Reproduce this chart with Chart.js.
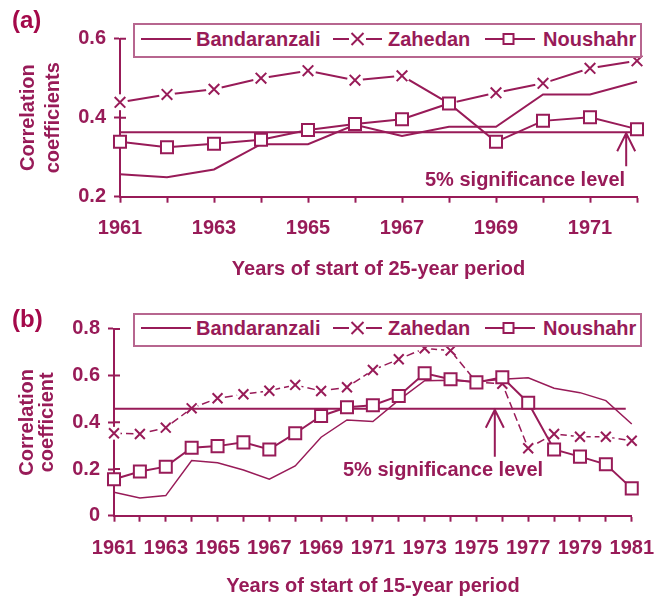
<!DOCTYPE html>
<html>
<head>
<meta charset="utf-8">
<script src="https://cdn.jsdelivr.net/npm/chart.js@4.4.1/dist/chart.umd.min.js"></script>
<style>
  body { margin: 0; background: #fff; }
  #wrap { position: relative; width: 669px; height: 600px; font-family: "Liberation Sans", Arial, sans-serif; font-weight: bold; color: #981b58; }
  canvas { position: absolute; left: 0; }
  #chartA { top: 0; }
  #chartB { top: 300px; }
  .tag { position: absolute; left: 12px; font-size: 24px; line-height: 24px; color: #a4094a; }
  .legend { position: absolute; left: 133px; width: 505px; border: 2px solid #b7668f; background: #fff; }
  .legend span, .legend svg { position: absolute; }
  .legend span { font-size: 20px; line-height: 20px; white-space: nowrap; }
  .note { position: absolute; font-size: 20px; line-height: 20px; white-space: nowrap; }
</style>
</head>
<body>
<div id="wrap">
  <canvas id="chartA" width="669" height="300"></canvas>
  <canvas id="chartB" width="669" height="300"></canvas>
  <div class="tag" style="top:8px">(a)</div>
  <div class="tag" style="top:307px">(b)</div>
  <div class="legend" id="legA" style="top:23px; height:31px"></div>
  <div class="legend" id="legB" style="top:313px; height:30px"></div>
  <div class="note" style="left:425px; top:169px">5% significance level</div>
  <div class="note" style="left:343px; top:459px">5% significance level</div>
</div>
<script>
var MAROON = '#981b58';

var seriesNames = ['Bandaranzali', 'Zahedan', 'Noushahr'];

// (a) 25-year periods
var yearsA = ['1961', '1962', '1963', '1964', '1965', '1966', '1967', '1968', '1969', '1970', '1971', '1972'];
var tickYearsA = ['1961', '1963', '1965', '1967', '1969', '1971'];
var bandA = [0.257, 0.249, 0.269, 0.333, 0.333, 0.382, 0.354, 0.377, 0.377, 0.459, 0.459, 0.491];
var zahA = [0.439, 0.459, 0.472, 0.500, 0.519, 0.495, 0.506, 0.436, 0.463, 0.487, 0.525, 0.544];
var nouA = [0.339, 0.325, 0.334, 0.344, 0.369, 0.384, 0.396, 0.436, 0.339, 0.392, 0.401, 0.371];
var sigA = 0.363;

// (b) 15-year periods
var yearsB = ['1961', '1962', '1963', '1964', '1965', '1966', '1967', '1968', '1969', '1970', '1971',
              '1972', '1973', '1974', '1975', '1976', '1977', '1978', '1979', '1980', '1981'];
var tickYearsB = ['1961', '1963', '1965', '1967', '1969', '1971', '1973', '1975', '1977', '1979', '1981'];
var bandB = [0.100, 0.076, 0.086, 0.236, 0.227, 0.196, 0.156, 0.213, 0.336, 0.410, 0.403,
             0.495, 0.578, 0.580, 0.574, 0.584, 0.591, 0.546, 0.527, 0.493, 0.393];
var zahB = [0.353, 0.350, 0.377, 0.460, 0.503, 0.520, 0.535, 0.560, 0.534, 0.550, 0.624,
            0.670, 0.717, 0.707, 0.572, 0.565, 0.289, 0.350, 0.338, 0.338, 0.321];
var nouB = [0.156, 0.189, 0.210, 0.291, 0.298, 0.314, 0.284, 0.353, 0.427, 0.464, 0.473,
            0.513, 0.610, 0.584, 0.571, 0.593, 0.484, 0.284, 0.253, 0.220, 0.117];
var sigB = 0.458;

Chart.defaults.font.family = '"Liberation Sans", Arial, sans-serif';
Chart.defaults.font.size = 20;
Chart.defaults.font.weight = 'bold';
Chart.defaults.color = MAROON;

// legend boxes (html)
function buildLegend(id, lineY, textY) {
  var samples = [
    '<line x1="0" y1="8" x2="50" y2="8"/>',
    '<line x1="0" y1="8" x2="16" y2="8"/><line x1="33" y1="8" x2="49" y2="8"/><path d="M18.5 2 L30.5 14 M30.5 2 L18.5 14"/>',
    '<line x1="0" y1="8" x2="18" y2="8"/><line x1="29" y1="8" x2="50" y2="8"/><rect x="18.5" y="3" width="10" height="10" fill="#fff"/>'
  ];
  var sx = [6, 198, 350], tx = [61, 253, 408];
  var html = '';
  seriesNames.forEach(function(n, i) {
    html += '<svg width="50" height="16" style="left:' + sx[i] + 'px; top:' + (lineY - 8) + 'px" fill="none" stroke="' + MAROON + '" stroke-width="2">' + samples[i] + '</svg>';
    html += '<span style="left:' + tx[i] + 'px; top:' + textY + 'px">' + n + '</span>';
  });
  document.getElementById(id).innerHTML = html;
}
buildLegend('legA', 13.5, 4);
buildLegend('legB', 12.7, 3);

// significance line, arrow and inner y ticks
var sigPlugin = {
  id: 'sig',
  afterDatasetDraw: function(chart, args, opts) {
    if (args.index !== 3) return;
    var ctx = chart.ctx, a = chart.chartArea, x = chart.scales.x, y = chart.scales.y;
    var yy = y.getPixelForValue(opts.value);
    var ax = x.getPixelForValue(opts.arrowAt);
    ctx.save();
    ctx.strokeStyle = MAROON;
    ctx.lineWidth = 2;
    ctx.beginPath();
    ctx.moveTo(a.left, yy);
    ctx.lineTo(a.right - opts.trim, yy);
    ctx.moveTo(ax, yy);
    ctx.lineTo(ax, yy + opts.arrowLen);
    ctx.moveTo(ax - 9, yy + 19);
    ctx.lineTo(ax, yy + 1);
    ctx.lineTo(ax + 9, yy + 19);
    y.ticks.forEach(function(t) {
      var p = y.getPixelForValue(t.value);
      if (p < a.bottom - 2) {
        ctx.moveTo(a.left, p);
        ctx.lineTo(a.left + 6, p);
      }
    });
    ctx.stroke();
    ctx.restore();
  }
};

function makeSets(band, zah, nou, s) {
  return [
    { label: 'Noushahr', data: nou, order: 0, clip: false, borderColor: MAROON, borderWidth: 2, tension: 0,
      pointStyle: 'rect', pointRadius: 8.5, pointBorderWidth: 2, pointBackgroundColor: '#fff', pointBorderColor: MAROON },
    { label: 'Zahedan', data: zah, order: 1, clip: false, showLine: false,
      pointStyle: 'crossRot', pointRadius: s.cross, pointBorderWidth: 2, pointBorderColor: MAROON },
    { label: 'Bandaranzali', data: band, order: 2, clip: false, borderColor: MAROON, borderWidth: s.lw, tension: 0, pointRadius: 0 },
    { label: 'halo', data: zah, order: 3, clip: false, showLine: false,
      pointStyle: 'circle', pointRadius: s.halo, pointBorderWidth: 0, pointBackgroundColor: '#fff' },
    { label: 'Zahedan line', data: zah, order: 4, clip: false, borderColor: MAROON, borderWidth: s.lw,
      borderDash: s.dash, tension: 0, pointRadius: 0 }
  ];
}

function makeScales(o) {
  return {
    x: {
      offset: false,
      grid: { drawOnChartArea: false, drawTicks: true, tickLength: 6, tickWidth: 2, tickColor: MAROON, color: MAROON },
      border: { display: true, color: MAROON, width: 2 },
      ticks: {
        autoSkip: false, maxRotation: 0, minRotation: 0, padding: o.xPad,
        callback: function(v) {
          var l = this.getLabelForValue(v);
          return o.shown.indexOf(l) >= 0 ? l : '';
        }
      },
      title: { display: true, text: o.xTitle, font: { size: 20, weight: 'bold' }, padding: { top: 0, bottom: o.xTitlePad } },
      afterFit: function(s) { s.height = o.xHeight; }
    },
    y: {
      min: o.yMin, max: o.yMax,
      grid: { drawOnChartArea: false, drawTicks: true, tickLength: 6, tickWidth: 2, tickColor: MAROON, color: MAROON },
      border: { display: true, color: MAROON, width: 2 },
      ticks: {
        stepSize: 0.2, padding: 8,
        callback: function(v) { return Math.abs(v) < 1e-9 ? '0' : v.toFixed(1); }
      },
      title: { display: true, text: o.yTitle, font: { size: 20, weight: 'bold', lineHeight: o.yLH }, padding: { top: o.yTitlePad, bottom: 0 } },
      afterFit: function(s) { s.width = o.yWidth; }
    }
  };
}

var chartA = new Chart(document.getElementById('chartA'), {
  type: 'line',
  data: { labels: yearsA, datasets: makeSets(bandA, zahA, nouA, { cross: 7.5, halo: 8, lw: 2, dash: [] }) },
  options: {
    responsive: false, animation: false, devicePixelRatio: 1, events: [],
    layout: { padding: { top: 38.7, right: 32, bottom: 0, left: 0 } },
    plugins: {
      legend: { display: false }, tooltip: { enabled: false },
      sig: { value: sigA, arrowAt: 10.77, arrowLen: 34, trim: 0 }
    },
    scales: makeScales({
      shown: tickYearsA, xPad: 13.5, xTitle: 'Years of start of 25-year period', xTitlePad: 19, xHeight: 103.3,
      yMin: 0.2, yMax: 0.6, yTitle: ['Correlation', 'coefficients'], yLH: 1.25, yTitlePad: 16, yWidth: 120
    })
  },
  plugins: [sigPlugin]
});

var chartB = new Chart(document.getElementById('chartB'), {
  type: 'line',
  data: { labels: yearsB, datasets: makeSets(bandB, zahB, nouB, { cross: 7, halo: 6.5, lw: 1.5, dash: [8, 4] }) },
  options: {
    responsive: false, animation: false, devicePixelRatio: 1, events: [],
    layout: { padding: { top: 28.9, right: 32.3, bottom: 0, left: 0 } },
    plugins: {
      legend: { display: false }, tooltip: { enabled: false },
      sig: { value: sigB, arrowAt: 14.71, arrowLen: 48, trim: 6 }
    },
    scales: makeScales({
      shown: tickYearsB, xPad: 15, xTitle: 'Years of start of 15-year period', xTitlePad: 2, xHeight: 84.3,
      yMin: 0, yMax: 0.8, yTitle: ['Correlation', 'coefficient'], yLH: 1.0, yTitlePad: 17, yWidth: 114
    })
  },
  plugins: [sigPlugin]
});
</script>
</body>
</html>
